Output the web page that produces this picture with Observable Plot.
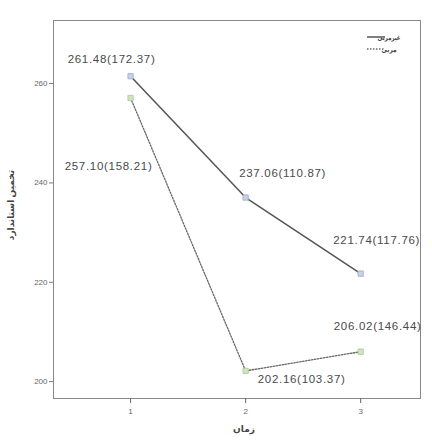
<!DOCTYPE html>
<html><head><meta charset="utf-8">
<script src="https://cdn.jsdelivr.net/npm/d3@7"></script>
<script src="https://cdn.jsdelivr.net/npm/@observablehq/plot@0.6"></script>
<style>body{margin:0;background:#fff;font-family:"Liberation Sans",Arial,sans-serif}
.vlab text{letter-spacing:0.7px}</style>
</head><body><div id="chart"></div>
<script>
const times = [1, 2, 3];
const seriesNames = ["غیرمربی", "مربی"];
const meansA = [261.48, 237.06, 221.74];
const sdA = [172.37, 110.87, 117.76];
const meansB = [257.10, 202.16, 206.02];
const sdB = [158.21, 103.37, 146.44];
const yTicks = [200, 220, 240, 260];
const xTitle = "زمان";
const yTitle = "تخمین استاندارد";

const A = times.map((t, i) => ({t, v: meansA[i], s: sdA[i], lab: `${meansA[i].toFixed(2)}(${sdA[i].toFixed(2)})`}));
const B = times.map((t, i) => ({t, v: meansB[i], s: sdB[i], lab: `${meansB[i].toFixed(2)}(${sdB[i].toFixed(2)})`}));

const txt = (arr, i, dx, dy) => Plot.text([arr[i]], {x: "t", y: "v", text: "lab", dx, dy, fill: "#4a4a4a", fontSize: 11.5, className: "vlab"});

const plot = Plot.plot({
  width: 432, height: 441,
  marginLeft: 53, marginRight: 12, marginTop: 20, marginBottom: 43,
  style: {fontFamily: "Liberation Sans, Arial, sans-serif", background: "#fff"},
  x: {domain: [0.33, 3.52]},
  y: {domain: [196.6, 272.7]},
  marks: [
    Plot.frame({stroke: "#888"}),
    Plot.axisY({ticks: yTicks, tickSize: 4, tickPadding: 2, fontSize: 8, stroke: "#777", color: "#666", label: null}),
    Plot.axisX({ticks: times, tickSize: 5, tickPadding: 5, fontSize: 8, tickFormat: d3.format("d"), color: "#666", label: null}),
    Plot.line(A, {x: "t", y: "v", stroke: "#555", strokeWidth: 1.5}),
    Plot.line(B, {x: "t", y: "v", stroke: "#666", strokeWidth: 1.3, strokeDasharray: "1.5,1.5"}),
    Plot.dot(A, {x: "t", y: "v", r: 3, symbol: "square", fill: "#c5d3e8", stroke: "#9aabc8", strokeWidth: 0.8}),
    Plot.dot(B, {x: "t", y: "v", r: 3, symbol: "square", fill: "#cfe5bf", stroke: "#a8c896", strokeWidth: 0.8}),
    txt(A, 0, -19, -17),
    txt(A, 1, 37, -24),
    txt(A, 2, 16, -33),
    txt(B, 0, -22, 68),
    txt(B, 1, 56, 8),
    txt(B, 2, 17, -25)
  ]
});
document.getElementById("chart").appendChild(plot);

const svg = d3.select(plot);
const fa = "Noto Sans, DejaVu Sans, sans-serif";
svg.append("text").attr("x", 244).attr("y", 432).attr("text-anchor", "middle")
  .attr("font-size", 9).attr("font-weight", "bold").attr("fill", "#444").attr("font-family", fa).text(xTitle);
svg.append("text").attr("transform", "translate(14,205) rotate(-90)").attr("text-anchor", "middle")
  .attr("font-size", 9).attr("font-weight", "bold").attr("fill", "#444").attr("font-family", fa).text(yTitle);
const lg = svg.append("g");
lg.append("line").attr("x1", 367).attr("x2", 385).attr("y1", 37).attr("y2", 37).attr("stroke", "#555").attr("stroke-width", 1.5);
lg.append("line").attr("x1", 367).attr("x2", 385).attr("y1", 49).attr("y2", 49).attr("stroke", "#666").attr("stroke-width", 1.3).attr("stroke-dasharray", "1.5,1.5");
lg.append("text").attr("x", 389).attr("y", 40).attr("textLength", 23).attr("lengthAdjust", "spacingAndGlyphs")
  .attr("font-size", 7).attr("font-weight", "bold").attr("fill", "#444").attr("font-family", fa).text(seriesNames[0]);
lg.append("text").attr("x", 389).attr("y", 52).attr("textLength", 15).attr("lengthAdjust", "spacingAndGlyphs")
  .attr("font-size", 7).attr("font-weight", "bold").attr("fill", "#444").attr("font-family", fa).text(seriesNames[1]);
</script></body></html>
